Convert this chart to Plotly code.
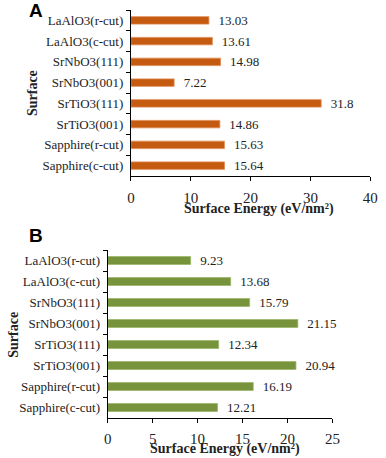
import plotly.graph_objects as go

surfaces = ["Sapphire(c-cut)", "Sapphire(r-cut)", "SrTiO3(001)", "SrTiO3(111)",
            "SrNbO3(001)", "SrNbO3(111)", "LaAlO3(c-cut)", "LaAlO3(r-cut)"]
energy_a = [15.64, 15.63, 14.86, 31.8, 7.22, 14.98, 13.61, 13.03]
energy_b = [12.21, 16.19, 20.94, 12.34, 21.15, 15.79, 13.68, 9.23]
labels_a = ["15.64", "15.63", "14.86", "31.8", "7.22", "14.98", "13.61", "13.03"]
labels_b = ["12.21", "16.19", "20.94", "12.34", "21.15", "15.79", "13.68", "9.23"]

W, H = 386, 458
serif = "Liberation Serif"


def px(x):
    return x / W


def py(y):
    return 1 - y / H


fig = go.Figure()

fig.add_trace(go.Bar(
    x=energy_a, y=surfaces, orientation="h", xaxis="x", yaxis="y",
    marker=dict(color="#C55A11", line=dict(color="#E08A50", width=0.8)),
    width=0.36, text=labels_a, texttemplate="\u00a0\u00a0%{text}",
    textposition="outside", cliponaxis=False, constraintext="none",
    textfont=dict(family=serif, size=13, color="#222"), showlegend=False))

fig.add_trace(go.Bar(
    x=energy_b, y=surfaces, orientation="h", xaxis="x2", yaxis="y2",
    marker=dict(color="#77933C", line=dict(color="#9DB86A", width=0.8)),
    width=0.38, text=labels_b, texttemplate="\u00a0\u00a0%{text}",
    textposition="outside", cliponaxis=False, constraintext="none",
    textfont=dict(family=serif, size=13, color="#222"), showlegend=False))

axis_common = dict(showline=True, linecolor="black", linewidth=1, ticks="outside",
                   ticklen=4, tickcolor="black", showgrid=False, zeroline=False,
                   tickfont=dict(family=serif, size=13, color="#222"))
xtick_font = dict(family=serif, size=15, color="#222")

fig.update_layout(
    width=W, height=H, margin=dict(l=0, r=0, t=0, b=0),
    paper_bgcolor="white", plot_bgcolor="white",
    xaxis=dict(axis_common, domain=[px(131), px(378)], anchor="y", range=[0, 40],
               dtick=10, tickfont=xtick_font, ticklabelstandoff=4, ticklabeloverflow="allow"),
    yaxis=dict(axis_common, domain=[py(176), py(10)], anchor="x",
               tickson="boundaries", ticklabelstandoff=4),
    xaxis2=dict(axis_common, domain=[px(107), px(339)], anchor="y2", range=[0, 25],
                dtick=5, tickfont=xtick_font, ticklabelstandoff=3, ticklabeloverflow="allow"),
    yaxis2=dict(axis_common, domain=[py(418), py(250)], anchor="x2",
                tickson="boundaries", ticklabelstandoff=4),
)

title_font = dict(family=serif, size=14, color="#222")
annots = [
    dict(x=px(33), y=py(10), text="<b>A</b>", font=dict(family="Liberation Sans", size=19, color="black")),
    dict(x=px(33), y=py(235), text="<b>B</b>", font=dict(family="Liberation Sans", size=19, color="black")),
    dict(x=px(263), y=py(209), text="<b>Surface Energy (eV/nm²)</b>", font=title_font),
    dict(x=px(228), y=py(449), text="<b>Surface Energy (eV/nm²)</b>", font=title_font),
    dict(x=px(30), y=py(93), text="<b>Surface</b>", textangle=-90, font=title_font),
    dict(x=px(9), y=py(335), text="<b>Surface</b>", textangle=-90, font=title_font),
]
for a in annots:
    fig.add_annotation(xref="paper", yref="paper", showarrow=False,
                       xanchor="center", yanchor="middle", borderpad=0, **a)

# drop the default 8px body margin so the figure sits at the window's corner
fig.write_html("out.html", config={"displayModeBar": False},
               post_script="document.body.style.margin='0';")
